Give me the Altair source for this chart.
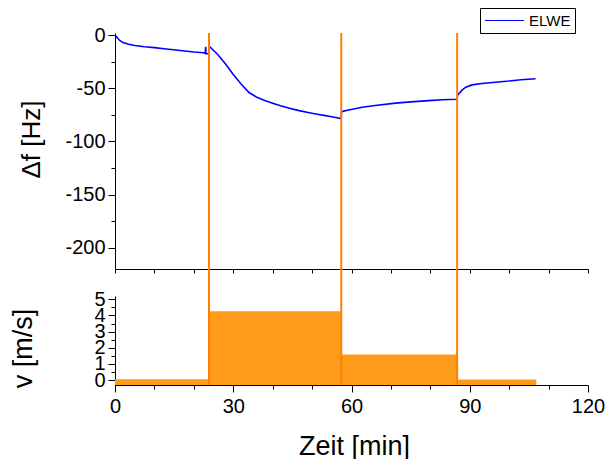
import altair as alt
import pandas as pd

# ---- data ----
t_f = [0, 0.3, 0.7, 1.2, 2.0, 3.5, 5.0, 7.5, 10, 13, 16, 20, 22.5, 22.9, 23.0, 23.1, 23.8,
       23.9, 26, 28, 30, 32, 34, 36, 38, 40, 42, 44, 46.7, 49, 51, 53, 55, 57.3,
       57.5, 58, 59.3, 62.7, 66, 71.2, 75, 79.6, 83, 86.7,
       87.0, 88.1, 89, 90.6, 93, 96.5, 100, 103, 106.7]
df_vals = [0, -1, -3, -5, -7, -8.5, -9.8, -11, -11.8, -13, -14.3, -15.8, -16.5, -17.2, -11, -17.3, -17.6,
           -10.5, -18, -27, -37, -46, -54, -58.5, -61.5, -64, -66.5, -68.5, -71, -72.8, -74.2, -75.5, -76.8, -78.5,
           -72, -71.5, -70.4, -67.9, -66.2, -64, -62.8, -61.6, -60.8, -60.3,
           -56, -51.5, -49, -46.8, -45.5, -44.3, -43.2, -42, -41.1]

t_v = [0, 23.85, 57.4, 86.8, 106.9]
v_vals = [0.05, 4.25, 1.58, 0.04, 0.04]

switch_times = [23.85, 57.4, 86.8]

x_ticks = list(range(0, 121, 10))
df_ticks = list(range(-200, 1, 25))
v_ticks = [i / 2 for i in range(0, 11)]

FONT = "Liberation Sans"
W, H1, H2, GAP = 473, 236, 89, 27
DF_DOMAIN = [-220, 2]
V_DOMAIN = [-0.3, 5.2]
ORANGE_LINE = "#FF8000"
ORANGE_FILL = "#FF9B1A"

d_f = pd.DataFrame({"t": t_f, "df": df_vals, "series": "ELWE"})
d_v = pd.DataFrame({"t": t_v, "v": v_vals})
d_s = pd.DataFrame({"t": switch_times})

xscale = alt.Scale(domain=[0, 120], nice=False, zero=False)

top_x_axis = alt.Axis(title=None, labels=False, values=x_ticks, tickSize=4, grid=False)
top_y_axis = alt.Axis(
    title="Δf [Hz]", values=df_ticks,
    labelExpr="datum.value % 50 === 0 ? toString(datum.value) : ''",
    tickSize={"condition": {"test": "datum.value % 50 === 0", "value": 7}, "value": 4},
    labelPadding=3, labelOverlap=False, labelFontSize=20,
    titleFontSize=26, titleFontWeight="normal", titleAngle=270, titleX=-84, titleY=106,
    titleAlign="center", titleBaseline="middle", grid=False,
)

line = alt.Chart(d_f).mark_line(strokeWidth=1.6).encode(
    x=alt.X("t:Q", scale=xscale, axis=top_x_axis),
    y=alt.Y("df:Q", scale=alt.Scale(domain=DF_DOMAIN, nice=False, zero=False), axis=top_y_axis),
    color=alt.Color("series:N", scale=alt.Scale(domain=["ELWE"], range=["#0000FF"]),
                    legend=alt.Legend(title=None, orient="none", legendX=365, legendY=-25,
                                      strokeColor="black", padding=4, symbolType="stroke",
                                      symbolSize=1521, symbolStrokeWidth=1.2, clipHeight=17,
                                      labelFontSize=15, labelFont=FONT, labelColor="black")),
)
rule_top = alt.Chart(d_s).mark_rule(color=ORANGE_LINE, strokeWidth=2).encode(
    x=alt.X("t:Q", scale=xscale, axis=top_x_axis)
)
top = alt.layer(line, rule_top).properties(width=W, height=H1)

bottom_x_axis = alt.Axis(
    title="Zeit [min]", values=x_ticks,
    labelExpr="datum.value % 30 === 0 ? toString(datum.value) : ''",
    tickSize={"condition": {"test": "datum.value % 30 === 0", "value": 7}, "value": 4},
    labelPadding=4, labelFlush=False, labelOverlap=False, labelFontSize=20,
    titleFontSize=27, titleFontWeight="normal", titleX=239, titleY=69,
    titleAlign="center", titleBaseline="alphabetic", grid=False,
)
bottom_y_axis = alt.Axis(
    title="v [m/s]", values=v_ticks,
    labelExpr="datum.value % 1 === 0 ? toString(datum.value) : ''",
    tickSize={"condition": {"test": "datum.value % 1 === 0", "value": 7}, "value": 4},
    labelPadding=3, labelOverlap=False, labelFontSize=20,
    titleFontSize=27, titleFontWeight="normal", titleAngle=270, titleX=-92, titleY=52,
    titleAlign="center", titleBaseline="middle", grid=False,
)

area = alt.Chart(d_v).mark_area(interpolate="step-after", color=ORANGE_FILL).encode(
    x=alt.X("t:Q", scale=xscale, axis=bottom_x_axis),
    y=alt.Y("v:Q", scale=alt.Scale(domain=V_DOMAIN, nice=False, zero=False), axis=bottom_y_axis),
    y2=alt.datum(V_DOMAIN[0]),
)
rule_bottom = alt.Chart(d_s).mark_rule(color=ORANGE_LINE, strokeWidth=2).encode(
    x=alt.X("t:Q", scale=xscale, axis=bottom_x_axis),
    y=alt.value(-GAP),
    y2=alt.value(H2),
)
bottom = alt.layer(area, rule_bottom).properties(width=W, height=H2)

chart = alt.vconcat(top, bottom, spacing=GAP, bounds="flush").properties(
    padding={"left": 9, "top": 7, "right": 0, "bottom": 0}
).configure(background="white").configure_view(strokeWidth=0).configure_axis(
    domainColor="black", tickColor="black", labelColor="black", titleColor="black",
    labelFont=FONT, titleFont=FONT, titleFontWeight="normal", domainWidth=1, tickWidth=1,
)

chart.save("out.html", embed_options={"renderer": "svg", "actions": False})
